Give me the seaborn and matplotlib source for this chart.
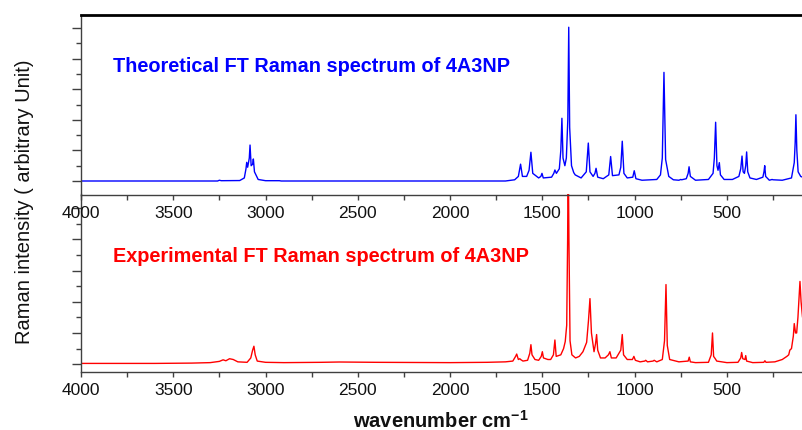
import numpy as np
import pandas as pd
import matplotlib
matplotlib.use("Agg")
import matplotlib.pyplot as plt
import seaborn as sns
from matplotlib.ticker import MultipleLocator

# ---- data (wavenumber, intensity vertices) ----
theo_wn = [4000, 3260, 3250, 3240, 3140, 3115, 3106, 3102, 3097, 3088, 3084, 3078, 3070, 3066, 3060,
           3040, 3000, 2925, 2915, 1700, 1650, 1630, 1618, 1608, 1585, 1572, 1562, 1552, 1520, 1508,
           1502, 1495, 1450, 1438, 1432, 1424, 1408, 1400, 1394, 1388, 1378, 1370, 1362, 1357, 1352,
           1342, 1330, 1322, 1290, 1262, 1251, 1242, 1225, 1215, 1209, 1200, 1170, 1140, 1130, 1120,
           1085, 1075, 1067, 1058, 1040, 1010, 1002, 993, 960, 880, 860, 850, 841, 832, 815,
           790, 760, 750, 745, 720, 710, 705, 698, 670, 600, 575, 568, 561, 554, 548,
           541, 535, 515, 470, 435, 425, 418, 412, 405, 398, 393, 387, 375, 340, 305,
           299, 295, 290, 270, 255, 250, 200, 150, 135, 130, 126, 121, 114, 100, 90]
theo_int = [0.0, 0.0, 0.05, 0.02, 0.03, 0.2, 0.8, 1.22, 0.9, 1.5, 2.35, 1.0, 1.1, 1.44, 0.6,
            0.1, 0.02, 0.02, 0.0, 0.0, 0.08, 0.3, 1.1, 0.3, 0.3, 0.7, 1.88, 0.5, 0.2, 0.3,
            0.5, 0.2, 0.25, 0.5, 0.72, 0.5, 0.8, 2.0, 4.1, 1.5, 1.0, 1.5, 4.0, 10.05, 3.5,
            1.0, 0.55, 0.4, 0.2, 0.6, 2.48, 0.6, 0.3, 0.5, 0.83, 0.25, 0.15, 0.4, 1.6, 0.35,
            0.4, 0.9, 2.6, 0.5, 0.2, 0.25, 0.67, 0.15, 0.05, 0.1, 0.4, 1.5, 7.1, 1.4, 0.3,
            0.08, 0.05, 0.1, 0.08, 0.15, 0.5, 0.93, 0.3, 0.05, 0.1, 0.5, 1.5, 3.84, 1.0, 0.7,
            1.2, 0.4, 0.1, 0.1, 0.3, 0.8, 1.63, 0.6, 0.5, 1.0, 1.9, 0.6, 0.2, 0.1, 0.25,
            0.6, 1.0, 0.3, 0.05, 0.1, 0.08, 0.05, 0.2, 1.2, 2.5, 4.33, 2.0, 0.6, 0.3, 0.25]

expt_wn = [4000, 3600, 3400, 3300, 3250, 3230, 3215, 3195, 3175, 3150, 3100, 3080, 3070, 3063, 3056,
           3045, 3000, 2900, 2700, 2600, 2500, 2400, 2000, 1800, 1700, 1660, 1645, 1639, 1630, 1622,
           1618, 1605, 1580, 1568, 1562, 1556, 1540, 1520, 1506, 1500, 1494, 1470, 1455, 1440, 1432,
           1425, 1400, 1385, 1376, 1368, 1363, 1360, 1356, 1350, 1340, 1320, 1300, 1280, 1260, 1250,
           1242, 1234, 1220, 1212, 1206, 1200, 1185, 1160, 1142, 1134, 1126, 1100, 1075, 1067, 1060,
           1040, 1012, 1004, 996, 970, 945, 940, 930, 900, 894, 880, 850, 838, 830, 823,
           810, 760, 710, 704, 698, 670, 600, 585, 578, 572, 563, 555, 500, 440, 425,
           420, 414, 402, 398, 393, 360, 300, 294, 288, 240, 200, 175, 165, 159, 150,
           140, 135, 128, 122, 115, 108, 104, 98, 90]
expt_int = [0.05, 0.05, 0.07, 0.1, 0.18, 0.28, 0.22, 0.35, 0.3, 0.15, 0.12, 0.4, 0.9, 1.15, 0.6,
            0.2, 0.12, 0.1, 0.12, 0.14, 0.13, 0.12, 0.1, 0.12, 0.15, 0.2, 0.5, 0.65, 0.3, 0.35,
            0.3, 0.2, 0.25, 0.7, 1.25, 0.6, 0.3, 0.25, 0.5, 0.8, 0.4, 0.3, 0.3, 0.6, 1.55,
            0.5, 0.6, 1.0, 1.45, 2.5, 8.0, 14.0, 8.0, 1.5, 0.6, 0.4, 0.5, 0.8, 1.4, 2.8,
            4.2, 2.0, 0.8, 1.3, 1.9, 0.9, 0.4, 0.4, 0.6, 0.8, 0.4, 0.4, 0.9, 1.9, 0.6,
            0.3, 0.3, 0.5, 0.25, 0.15, 0.2, 0.25, 0.15, 0.2, 0.25, 0.15, 0.3, 1.5, 5.1, 1.2,
            0.3, 0.15, 0.2, 0.45, 0.15, 0.1, 0.12, 0.6, 2.0, 0.5, 0.35, 0.2, 0.1, 0.12, 0.4,
            0.75, 0.35, 0.3, 0.55, 0.2, 0.1, 0.12, 0.22, 0.12, 0.15, 0.3, 0.5, 0.6, 0.9, 1.0,
            1.8, 2.6, 2.0, 2.0, 3.0, 4.5, 5.3, 4.0, 3.0]

x_ticks = [4000, 3500, 3000, 2500, 2000, 1500, 1000, 500]
theo_label = "Theoretical FT Raman spectrum of 4A3NP"
expt_label = "Experimental FT Raman spectrum of 4A3NP"
y_label = "Raman intensity ( arbitrary Unit)"
x_label = r"wavenumber cm$^{\mathbf{-1}}$"

theo = pd.DataFrame({"wn": theo_wn, "I": theo_int})
expt = pd.DataFrame({"wn": expt_wn, "I": expt_int})

sns.set_style("ticks")
plt.rcParams["font.family"] = ["Liberation Sans", "DejaVu Sans"]
plt.rcParams["mathtext.fontset"] = "custom"
plt.rcParams["mathtext.rm"] = "Liberation Sans"
plt.rcParams["mathtext.bf"] = "Liberation Sans:bold"

W, H = 802, 431
fig = plt.figure(figsize=(W / 100, H / 100), dpi=100)

def fx(px):
    return px / W

def fy(py):
    return 1 - py / H

ax1 = fig.add_axes([fx(81), fy(196), 1 - fx(81), fy(16) - fy(196)])
ax2 = fig.add_axes([fx(81), fy(373), 1 - fx(81), fy(195) - fy(373)])
ax2.patch.set_visible(False)
ax1.set_zorder(1)
ax1.patch.set_visible(False)

sns.lineplot(data=theo, x="wn", y="I", ax=ax1, color="#0000ff", lw=1.0, sort=False,
             estimator=None)
sns.lineplot(data=expt, x="wn", y="I", ax=ax2, color="#ff0000", lw=1.0, sort=False,
             estimator=None)

for ax, ylo, yhi in [(ax1, -0.915, 10.85), (ax2, -0.5, 10.9)]:
    ax.set_xlim(4000, 93)
    ax.set_ylim(ylo, yhi)
    ax.set_xticks(x_ticks)
    ax.set_xticklabels([str(t) for t in x_ticks])
    ax.xaxis.set_minor_locator(MultipleLocator(250))
    ax.yaxis.set_major_locator(MultipleLocator(2))
    ax.yaxis.set_minor_locator(MultipleLocator(1))
    ax.set_yticklabels([])
    ax.set_xlabel("")
    ax.set_ylabel("")
    ax.tick_params(axis="x", which="both", direction="out", length=3.5, width=1.0,
                   color="#404040", labelsize=12.5, pad=4, labelcolor="#111111")
    ax.tick_params(axis="y", which="major", direction="out", length=6.5, width=1.0,
                   color="#404040")
    ax.tick_params(axis="y", which="minor", direction="out", length=3.5, width=1.0,
                   color="#404040")
    ax.spines["right"].set_visible(False)
    for s in ["left", "bottom"]:
        ax.spines[s].set_color("#404040")
        ax.spines[s].set_linewidth(1.0)

ax1.spines["top"].set_visible(True)
ax1.spines["top"].set_color("black")
ax1.spines["top"].set_linewidth(2.0)
ax2.spines["top"].set_visible(False)

ax1.text(fx(113), fy(66), theo_label, transform=fig.transFigure, color="#0000ff",
         fontsize=14.3, fontweight="bold", ha="left", va="center")
ax2.text(fx(113), fy(257), expt_label, transform=fig.transFigure, color="#ff0000",
         fontsize=14.3, fontweight="bold", ha="left", va="center")

fig.text(fx(441), fy(421), x_label, fontsize=14.5, fontweight="bold", ha="center",
         va="center", color="#111111")
fig.text(fx(25), fy(202), y_label, fontsize=14.5, rotation=90, ha="center",
         va="center", color="#111111")

fig.savefig("out.png", dpi=100)
